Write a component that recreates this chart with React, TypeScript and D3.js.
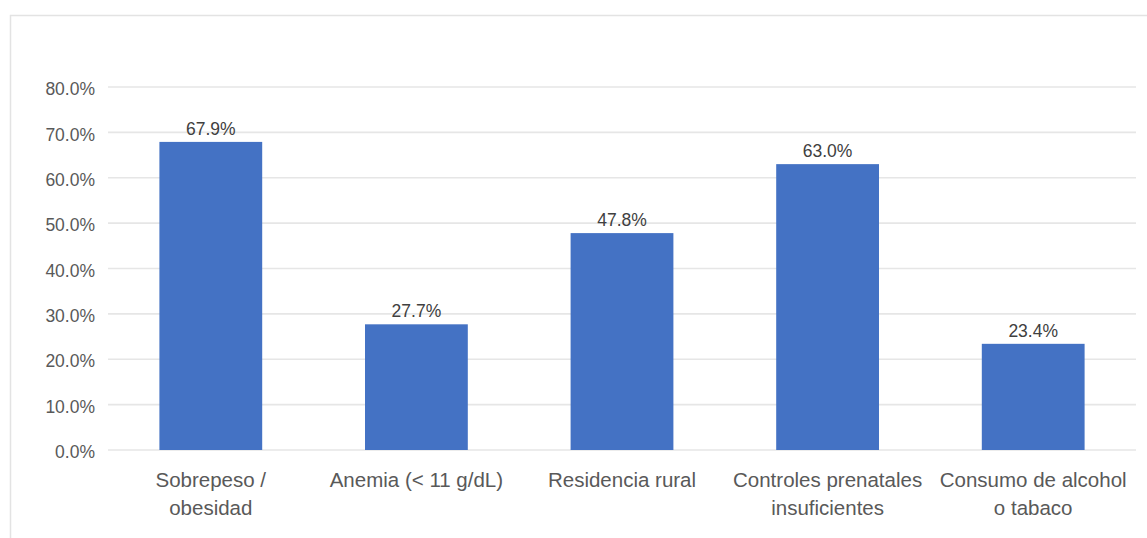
import React, { useEffect, useRef } from 'react';
import * as d3 from 'd3';

const CATEGORIES = [
  ['Sobrepeso /', 'obesidad'],
  ['Anemia (< 11 g/dL)'],
  ['Residencia rural'],
  ['Controles prenatales', 'insuficientes'],
  ['Consumo de alcohol', 'o tabaco'],
];
const VALUES = [67.9, 27.7, 47.8, 63.0, 23.4];
const Y_TICKS = [0, 10, 20, 30, 40, 50, 60, 70, 80];

const W = 1147;
const H = 538;
const FONT = '"Liberation Sans", Arial, sans-serif';

const App: React.FC = () => {
  const svgRef = useRef<SVGSVGElement>(null);

  useEffect(() => {
    if (!svgRef.current) return;
    const svg = d3.select(svgRef.current);
    svg.selectAll('*').remove();

    // chart frame (runs off the right and bottom edges)
    svg.append('rect')
      .attr('x', 10.5)
      .attr('y', 15.5)
      .attr('width', W + 20)
      .attr('height', H + 20)
      .attr('fill', '#fff')
      .attr('stroke', '#e3e3e3')
      .attr('stroke-width', 1.5);

    const left = 108;
    const right = 1136;
    const top = 87;
    const bottom = 450;

    const keys = CATEGORIES.map((c) => c.join(' '));
    const x = d3.scaleBand().domain(keys).range([left, right]).paddingInner(0.5).paddingOuter(0.25);
    const y = d3.scaleLinear().domain([0, 80]).range([bottom, top]);

    const g = svg.append('g');

    g.selectAll('line.grid')
      .data(Y_TICKS)
      .join('line')
      .attr('class', 'grid')
      .attr('x1', left)
      .attr('x2', right)
      .attr('y1', (d) => y(d))
      .attr('y2', (d) => y(d))
      .attr('stroke', '#e6e6e6')
      .attr('stroke-width', 1.6);

    g.selectAll('text.ytick')
      .data(Y_TICKS)
      .join('text')
      .attr('class', 'ytick')
      .attr('x', 95)
      .attr('y', (d) => y(d) + 2)
      .attr('dy', '0.35em')
      .attr('text-anchor', 'end')
      .attr('fill', '#595959')
      .attr('font-family', FONT)
      .attr('font-size', 17.5)
      .text((d) => `${d.toFixed(1)}%`);

    g.selectAll('rect.bar')
      .data(VALUES)
      .join('rect')
      .attr('class', 'bar')
      .attr('x', (_, i) => x(keys[i])!)
      .attr('y', (d) => y(d))
      .attr('width', x.bandwidth())
      .attr('height', (d) => bottom - y(d))
      .attr('fill', '#4472c4');

    g.selectAll('text.val')
      .data(VALUES)
      .join('text')
      .attr('class', 'val')
      .attr('x', (_, i) => x(keys[i])! + x.bandwidth() / 2)
      .attr('y', (d) => y(d) - 7)
      .attr('text-anchor', 'middle')
      .attr('fill', '#404040')
      .attr('font-family', FONT)
      .attr('font-size', 17.5)
      .text((d) => `${d.toFixed(1)}%`);

    CATEGORIES.forEach((lines, i) => {
      const cx = x(keys[i])! + x.bandwidth() / 2;
      const t = g.append('text')
        .attr('text-anchor', 'middle')
        .attr('fill', '#595959')
        .attr('font-family', FONT)
        .attr('font-size', 20.5);
      lines.forEach((ln, j) => {
        t.append('tspan').attr('x', cx).attr('y', 487 + j * 28).text(ln);
      });
    });
  }, []);

  return (
    <svg
      ref={svgRef}
      width={W}
      height={H}
      style={{ position: 'absolute', left: 0, top: 0, background: '#fff' }}
    />
  );
};

export default App;
